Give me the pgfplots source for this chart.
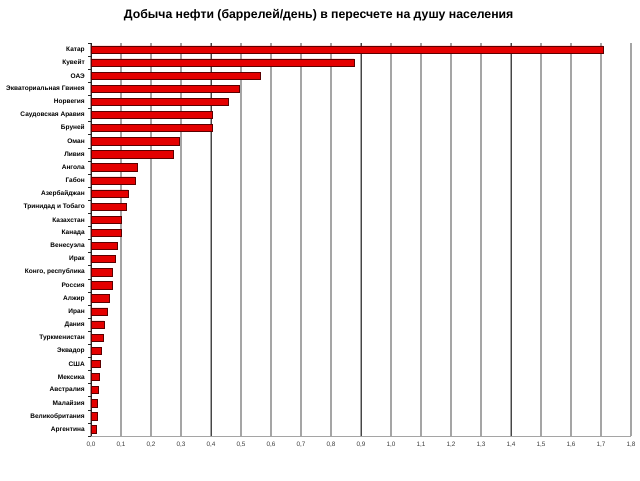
\documentclass[border=0pt]{standalone}
\usepackage{fontspec}
\setmainfont{Liberation Sans}
\usepackage{pgfplots}
\pgfplotsset{compat=1.18}
\definecolor{barred}{RGB}{228,0,0}
\definecolor{bardark}{RGB}{90,0,0}
\definecolor{gridgray}{RGB}{165,165,165}
\definecolor{griddark}{RGB}{70,70,70}
\definecolor{ticktext}{RGB}{60,60,60}
\begin{document}
\begin{tikzpicture}
\path[use as bounding box] (0,0) rectangle (480pt,360pt);
\node[font=\bfseries\fontsize{9.2}{11}\selectfont] at (239pt,348.5pt) {Добыча нефти (баррелей/день) в пересчете на душу населения};
\begin{axis}[
  at={(68.25pt,33pt)}, anchor=south west,
  scale only axis, width=405pt, height=294.75pt,
  xmin=0, xmax=1.8, ymin=-0.5, ymax=29.5, y dir=reverse,
  axis x line*=bottom, axis y line*=left,
  x axis line style={gridgray, line width=0.6pt},
  y axis line style={black!85, line width=0.6pt},
  xtick={0,0.1,0.2,0.3,0.4,0.5,0.6,0.7,0.8,0.9,1.0,1.1,1.2,1.3,1.4,1.5,1.6,1.7,1.8},
  extra x ticks={0.4,0.9,1.4},
  extra x tick labels={},
  extra x tick style={grid style={griddark, line width=0.6pt}},
  xmajorgrids, grid style={gridgray, line width=0.8pt},
  major tick length=0pt,
  ytick={0,...,29},
  minor ytick={-0.5,0.5,...,29.5},
  minor tick length=2pt,
  minor y tick style={black!85, line width=0.4pt},
  tick align=outside,
  xticklabel style={inner sep=0pt, anchor=north, yshift=-4.3pt, text=ticktext, font=\fontsize{4.8}{5.5}\selectfont},
  /pgf/number format/assume math mode=true,
  /pgf/number format/.cd, use comma, fixed, fixed zerofill, precision=1, /pgfplots/.cd,
  yticklabel style={inner sep=0pt, anchor=east, xshift=-4.5pt, font=\bfseries\fontsize{4.9}{6}\selectfont},
  yticklabels={Катар,Кувейт,ОАЭ,Экваториальная Гвинея,Норвегия,Саудовская Аравия,Бруней,Оман,Ливия,Ангола,Габон,Азербайджан,Тринидад и Тобаго,Казахстан,Канада,Венесуэла,Ирак,{Конго, республика},Россия,Алжир,Иран,Дания,Туркменистан,Эквадор,США,Мексика,Австралия,Малайзия,Великобритания,Аргентина},
  clip=false,
]
\addplot[xbar, bar width=0.56, fill=barred, draw=bardark, line width=0.5pt] coordinates {
(1.707,0) (0.877,1) (0.563,2) (0.493,3) (0.457,4) (0.406,5) (0.403,6) (0.293,7) (0.276,8) (0.153,9)
(0.147,10) (0.124,11) (0.118,12) (0.102,13) (0.101,14) (0.087,15) (0.081,16) (0.072,17) (0.072,18) (0.060,19)
(0.056,20) (0.044,21) (0.042,22) (0.033,23) (0.031,24) (0.027,25) (0.024,26) (0.021,27) (0.021,28) (0.019,29)
};
\end{axis}
\end{tikzpicture}
\end{document}
